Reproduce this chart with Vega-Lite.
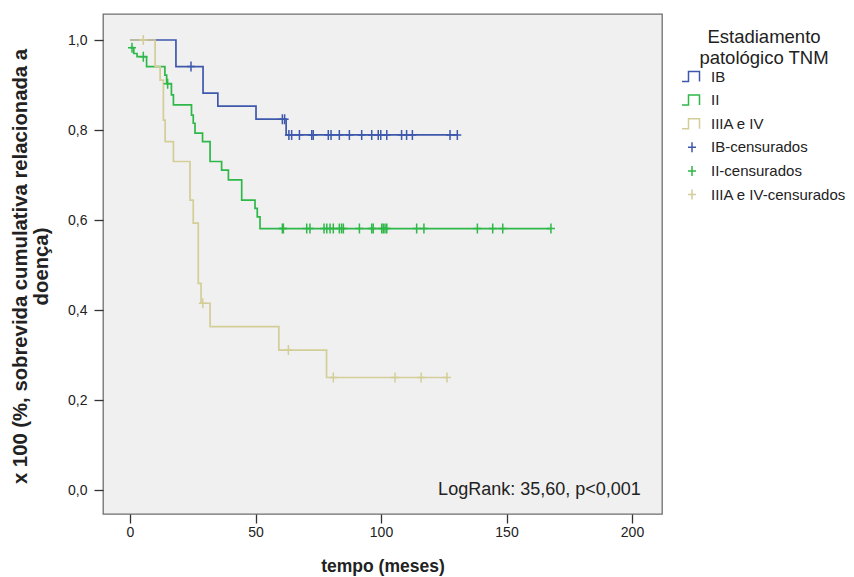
{
  "$schema": "https://vega.github.io/schema/vega-lite/v6.json",
  "width": 559,
  "height": 500,
  "autosize": {"type": "none"},
  "padding": {"left": 103, "top": 14, "right": 192, "bottom": 63},
  "background": "white",
  "config": {
    "font": "Liberation Sans",
    "view": {"fill": "#F0F0F0", "stroke": "#6E6E6E", "strokeWidth": 1.3},
    "axis": {"domain": false, "grid": false, "tickColor": "#333333", "tickWidth": 1.3, "tickSize": 9, "labelColor": "#222222", "titleColor": "#222222", "labelFont": "Liberation Sans", "titleFont": "Liberation Sans", "labelFontSize": 14, "titleFontSize": 17, "titleFontWeight": "bold"}
  },
  "datasets": {
    "curvas": [
      {"serie": "IB", "tempo": 0, "sobrevida": 1.0},
      {"serie": "IB", "tempo": 18.3, "sobrevida": 0.941},
      {"serie": "IB", "tempo": 29.1, "sobrevida": 0.882},
      {"serie": "IB", "tempo": 35.0, "sobrevida": 0.853},
      {"serie": "IB", "tempo": 50.2, "sobrevida": 0.824},
      {"serie": "IB", "tempo": 62.2, "sobrevida": 0.789},
      {"serie": "IB", "tempo": 130.4, "sobrevida": 0.789},
      {"serie": "II", "tempo": 0, "sobrevida": 0.983},
      {"serie": "II", "tempo": 1.5, "sobrevida": 0.970},
      {"serie": "II", "tempo": 2.8, "sobrevida": 0.963},
      {"serie": "II", "tempo": 6.6, "sobrevida": 0.941},
      {"serie": "II", "tempo": 13.9, "sobrevida": 0.922},
      {"serie": "II", "tempo": 14.6, "sobrevida": 0.903},
      {"serie": "II", "tempo": 16.5, "sobrevida": 0.878},
      {"serie": "II", "tempo": 17.3, "sobrevida": 0.856},
      {"serie": "II", "tempo": 24.5, "sobrevida": 0.833},
      {"serie": "II", "tempo": 25.2, "sobrevida": 0.815},
      {"serie": "II", "tempo": 25.9, "sobrevida": 0.793},
      {"serie": "II", "tempo": 28.9, "sobrevida": 0.774},
      {"serie": "II", "tempo": 31.9, "sobrevida": 0.730},
      {"serie": "II", "tempo": 36.5, "sobrevida": 0.711},
      {"serie": "II", "tempo": 39.2, "sobrevida": 0.689},
      {"serie": "II", "tempo": 44.5, "sobrevida": 0.644},
      {"serie": "II", "tempo": 49.8, "sobrevida": 0.626},
      {"serie": "II", "tempo": 50.7, "sobrevida": 0.607},
      {"serie": "II", "tempo": 51.8, "sobrevida": 0.581},
      {"serie": "II", "tempo": 167.7, "sobrevida": 0.581},
      {"serie": "IIIA e IV", "tempo": 0, "sobrevida": 1.0},
      {"serie": "IIIA e IV", "tempo": 10.0, "sobrevida": 0.941},
      {"serie": "IIIA e IV", "tempo": 12.0, "sobrevida": 0.911},
      {"serie": "IIIA e IV", "tempo": 13.3, "sobrevida": 0.822},
      {"serie": "IIIA e IV", "tempo": 14.0, "sobrevida": 0.774},
      {"serie": "IIIA e IV", "tempo": 17.3, "sobrevida": 0.730},
      {"serie": "IIIA e IV", "tempo": 23.9, "sobrevida": 0.644},
      {"serie": "IIIA e IV", "tempo": 25.2, "sobrevida": 0.593},
      {"serie": "IIIA e IV", "tempo": 27.2, "sobrevida": 0.459},
      {"serie": "IIIA e IV", "tempo": 28.3, "sobrevida": 0.415},
      {"serie": "IIIA e IV", "tempo": 31.9, "sobrevida": 0.363},
      {"serie": "IIIA e IV", "tempo": 59.3, "sobrevida": 0.311},
      {"serie": "IIIA e IV", "tempo": 78.3, "sobrevida": 0.250},
      {"serie": "IIIA e IV", "tempo": 126.3, "sobrevida": 0.250}
    ],
    "censurados": [
      {"serie": "IB-censurados", "tempo": 24.3, "sobrevida": 0.941},
      {"serie": "IB-censurados", "tempo": 60.7, "sobrevida": 0.824},
      {"serie": "IB-censurados", "tempo": 61.6, "sobrevida": 0.824},
      {"serie": "IB-censurados", "tempo": 63.3, "sobrevida": 0.789},
      {"serie": "IB-censurados", "tempo": 64.4, "sobrevida": 0.789},
      {"serie": "IB-censurados", "tempo": 67.5, "sobrevida": 0.789},
      {"serie": "IB-censurados", "tempo": 72.4, "sobrevida": 0.789},
      {"serie": "IB-censurados", "tempo": 73.0, "sobrevida": 0.789},
      {"serie": "IB-censurados", "tempo": 79.0, "sobrevida": 0.789},
      {"serie": "IB-censurados", "tempo": 80.1, "sobrevida": 0.789},
      {"serie": "IB-censurados", "tempo": 83.4, "sobrevida": 0.789},
      {"serie": "IB-censurados", "tempo": 87.4, "sobrevida": 0.789},
      {"serie": "IB-censurados", "tempo": 92.3, "sobrevida": 0.789},
      {"serie": "IB-censurados", "tempo": 96.3, "sobrevida": 0.789},
      {"serie": "IB-censurados", "tempo": 98.9, "sobrevida": 0.789},
      {"serie": "IB-censurados", "tempo": 99.9, "sobrevida": 0.789},
      {"serie": "IB-censurados", "tempo": 102.3, "sobrevida": 0.789},
      {"serie": "IB-censurados", "tempo": 108.2, "sobrevida": 0.789},
      {"serie": "IB-censurados", "tempo": 110.2, "sobrevida": 0.789},
      {"serie": "IB-censurados", "tempo": 112.5, "sobrevida": 0.789},
      {"serie": "IB-censurados", "tempo": 127.5, "sobrevida": 0.789},
      {"serie": "IB-censurados", "tempo": 130.4, "sobrevida": 0.789},
      {"serie": "II-censurados", "tempo": 0.8, "sobrevida": 0.983},
      {"serie": "II-censurados", "tempo": 5.3, "sobrevida": 0.963},
      {"serie": "II-censurados", "tempo": 15.0, "sobrevida": 0.903},
      {"serie": "II-censurados", "tempo": 60.7, "sobrevida": 0.581},
      {"serie": "II-censurados", "tempo": 61.1, "sobrevida": 0.581},
      {"serie": "II-censurados", "tempo": 70.4, "sobrevida": 0.581},
      {"serie": "II-censurados", "tempo": 71.7, "sobrevida": 0.581},
      {"serie": "II-censurados", "tempo": 77.3, "sobrevida": 0.581},
      {"serie": "II-censurados", "tempo": 78.4, "sobrevida": 0.581},
      {"serie": "II-censurados", "tempo": 79.7, "sobrevida": 0.581},
      {"serie": "II-censurados", "tempo": 81.0, "sobrevida": 0.581},
      {"serie": "II-censurados", "tempo": 83.4, "sobrevida": 0.581},
      {"serie": "II-censurados", "tempo": 84.3, "sobrevida": 0.581},
      {"serie": "II-censurados", "tempo": 85.0, "sobrevida": 0.581},
      {"serie": "II-censurados", "tempo": 91.4, "sobrevida": 0.581},
      {"serie": "II-censurados", "tempo": 96.3, "sobrevida": 0.581},
      {"serie": "II-censurados", "tempo": 96.9, "sobrevida": 0.581},
      {"serie": "II-censurados", "tempo": 100.3, "sobrevida": 0.581},
      {"serie": "II-censurados", "tempo": 100.9, "sobrevida": 0.581},
      {"serie": "II-censurados", "tempo": 101.6, "sobrevida": 0.581},
      {"serie": "II-censurados", "tempo": 102.3, "sobrevida": 0.581},
      {"serie": "II-censurados", "tempo": 114.2, "sobrevida": 0.581},
      {"serie": "II-censurados", "tempo": 117.1, "sobrevida": 0.581},
      {"serie": "II-censurados", "tempo": 138.4, "sobrevida": 0.581},
      {"serie": "II-censurados", "tempo": 144.5, "sobrevida": 0.581},
      {"serie": "II-censurados", "tempo": 148.5, "sobrevida": 0.581},
      {"serie": "II-censurados", "tempo": 167.7, "sobrevida": 0.581},
      {"serie": "IIIA e IV-censurados", "tempo": 5.3, "sobrevida": 1.0},
      {"serie": "IIIA e IV-censurados", "tempo": 29.0, "sobrevida": 0.415},
      {"serie": "IIIA e IV-censurados", "tempo": 63.1, "sobrevida": 0.311},
      {"serie": "IIIA e IV-censurados", "tempo": 81.0, "sobrevida": 0.250},
      {"serie": "IIIA e IV-censurados", "tempo": 105.6, "sobrevida": 0.250},
      {"serie": "IIIA e IV-censurados", "tempo": 116.0, "sobrevida": 0.250},
      {"serie": "IIIA e IV-censurados", "tempo": 126.3, "sobrevida": 0.250}
    ],
    "anotacao": [
      {"tempo": 203.5, "sobrevida": 0.0, "rotulo": "LogRank: 35,60, p<0,001"}
    ]
  },
  "layer": [
    {
      "data": {"name": "curvas"},
      "mark": {"type": "line", "interpolate": "step-after", "strokeWidth": 1.7},
      "encoding": {
        "x": {
          "field": "tempo", "type": "quantitative",
          "scale": {"domain": [-10.76, 211.95], "nice": false, "zero": false},
          "axis": {"values": [0, 50, 100, 150, 200], "title": "tempo (meses)", "labelPadding": 2, "titleY": 43, "titleBaseline": "top", "titleFontSize": 17.5}
        },
        "y": {
          "field": "sobrevida", "type": "quantitative",
          "scale": {"domain": [-0.0533, 1.0578], "nice": false, "zero": false},
          "axis": {
            "values": [0, 0.2, 0.4, 0.6, 0.8, 1.0],
            "labelExpr": "replace(format(datum.value, '.1f'), '.', ',')",
            "labelPadding": 7,
            "title": ["x 100 (%, sobrevida cumulativa relacionada a", "doença)"],
            "titleFontSize": 20.3,
            "titleX": -73, "titleY": 252, "titleBaseline": "bottom", "titleLineHeight": 21
          }
        },
        "color": {
          "field": "serie", "type": "nominal",
          "scale": {
            "domain": ["IB", "II", "IIIA e IV", "IB-censurados", "II-censurados", "IIIA e IV-censurados"],
            "range": ["#3E58AC", "#2EB848", "#D3CE97", "#3E58AC", "#2EB848", "#D3CE97"]
          },
          "legend": {
            "title": ["Estadiamento", "patológico TNM"],
            "orient": "none", "legendX": 578, "legendY": 14,
            "padding": 0, "titlePadding": -2, "rowPadding": 4.6, "labelOffset": 8,
            "labelFontSize": 15, "labelColor": "#222222", "labelFont": "Liberation Sans",
            "titleFontSize": 18.5, "titleFontWeight": "normal", "titleColor": "#222222", "titleFont": "Liberation Sans",
            "titleAlign": "center", "titleAnchor": "middle", "titleLineHeight": 21,
            "symbolSize": 400, "symbolStrokeWidth": 1.5,
            "symbolType": "M-1,0.5H-0.35V-0.5H0.75V0.5",
            "encode": {
              "symbols": {
                "update": {
                  "shape": {"signal": "indexof(datum.value, 'censurados') >= 0 ? 'M-0.4,0H0.4M0,-0.5V0.5' : 'M-1,0.5H-0.35V-0.5H0.75V0.5'"},
                  "fill": {"value": "transparent"},
                  "strokeWidth": {"value": 1.5}
                }
              }
            }
          }
        }
      }
    },
    {
      "data": {"name": "censurados"},
      "mark": {"type": "point", "shape": "M-0.4,0H0.4M0,-0.5V0.5", "size": 400, "filled": false, "strokeWidth": 1.5, "opacity": 1},
      "encoding": {
        "x": {"field": "tempo", "type": "quantitative"},
        "y": {"field": "sobrevida", "type": "quantitative"},
        "color": {"field": "serie", "type": "nominal"}
      }
    },
    {
      "data": {"name": "anotacao"},
      "mark": {"type": "text", "align": "right", "baseline": "middle", "fontSize": 18, "color": "#222222", "font": "Liberation Sans"},
      "encoding": {
        "x": {"field": "tempo", "type": "quantitative"},
        "y": {"field": "sobrevida", "type": "quantitative"},
        "text": {"field": "rotulo"}
      }
    }
  ]
}
